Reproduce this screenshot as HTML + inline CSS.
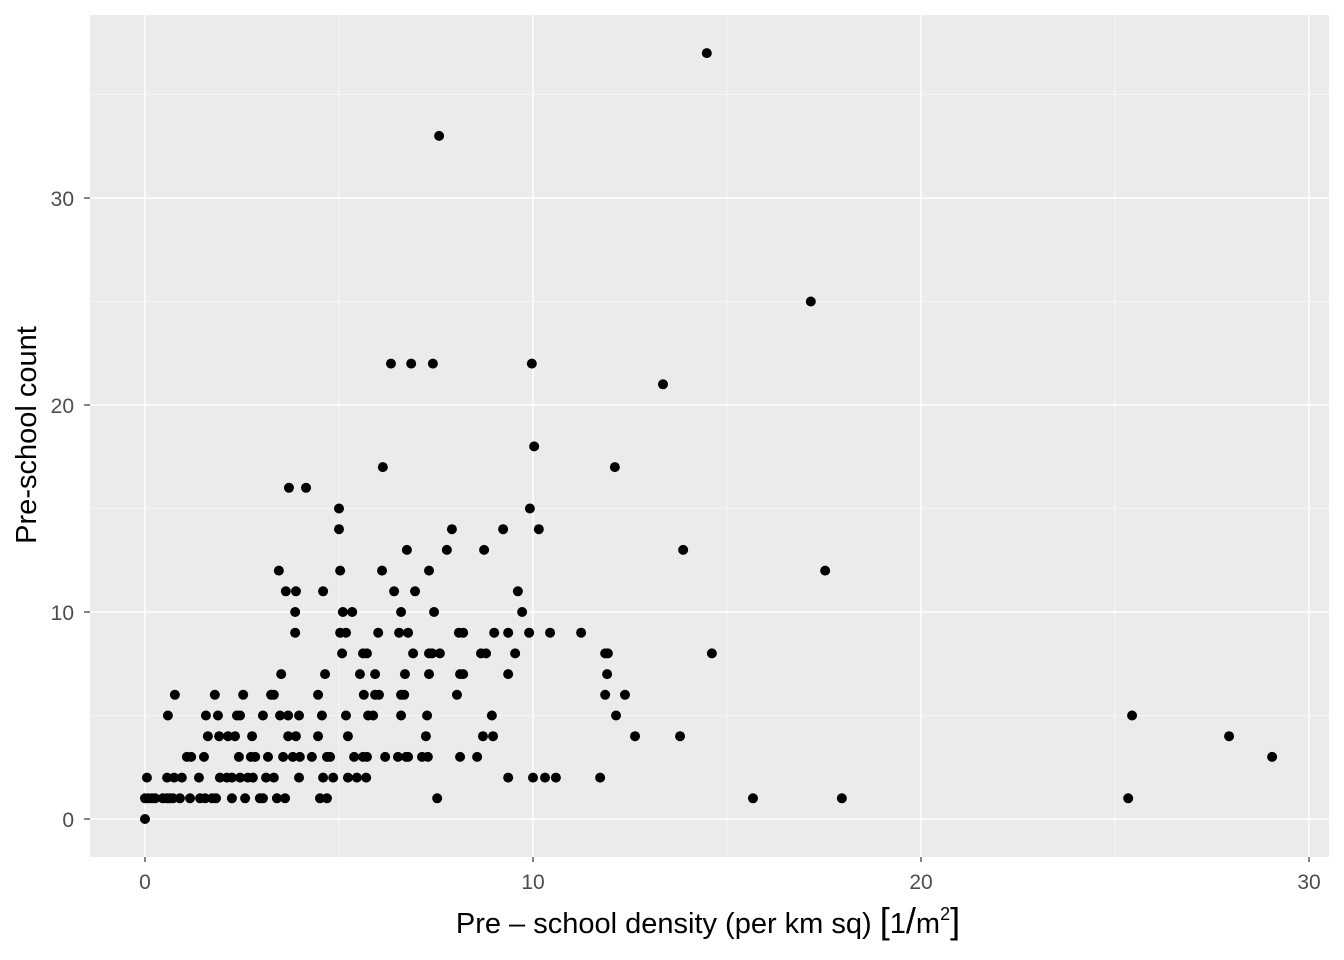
<!DOCTYPE html>
<html><head><meta charset="utf-8"><style>
html,body{margin:0;padding:0;background:#fff;}
svg{display:block;font-family:"Liberation Sans",Arial,sans-serif;}
</style></head><body>
<svg id="chart" width="1344" height="960">
<rect x="90" y="15" width="1239" height="842" fill="#EBEBEB"/>
<g id="grid"></g>
<g id="points"></g>
<g id="axes"></g>
<text transform="translate(36,435) rotate(-90)" text-anchor="middle" font-size="29" fill="#000">Pre-school count</text>
<text x="708" y="933" text-anchor="middle" font-size="29" fill="#000">Pre – school density (per km sq) <tspan font-size="36">[</tspan>1<tspan font-size="36">/</tspan>m<tspan font-size="18" dy="-13">2</tspan><tspan font-size="36" dy="13">]</tspan></text>
</svg>
<script>
const counts = [0,1,2,3,4,5,6,7,8,9,10,11,12,13,14,15,16,17,18,21,22,25,33,37];
const densities = [
 [0],
 [0,0.08,0.18,0.26,0.46,0.57,0.64,0.72,0.90,1.16,1.42,1.55,1.73,1.83,2.24,2.58,2.96,3.04,3.40,3.61,4.51,4.69,7.53,15.67,17.96,25.34],
 [0.05,0.57,0.75,0.95,1.39,1.93,2.11,2.24,2.45,2.65,2.78,3.12,3.32,3.97,4.59,4.85,5.23,5.46,5.70,9.36,10.0,10.31,10.59,11.73],
 [1.08,1.19,1.52,2.42,2.73,2.84,3.17,3.56,3.81,3.99,4.30,4.69,4.77,5.39,5.62,5.72,6.19,6.52,6.73,6.78,7.14,7.29,8.12,8.56,29.05],
 [1.62,1.91,2.14,2.32,2.76,3.69,3.89,4.46,5.23,7.24,8.71,8.97,12.63,13.79,27.94],
 [0.59,1.57,1.88,2.37,2.45,3.04,3.48,3.69,3.97,4.56,5.18,5.75,5.88,6.60,7.27,8.94,12.14,25.44],
 [0.77,1.80,2.53,3.25,3.32,4.46,5.64,5.93,6.03,6.60,6.68,8.04,11.86,12.37],
 [3.51,4.64,5.54,5.93,6.70,7.32,8.12,8.20,9.36,11.91],
 [5.08,5.62,5.72,6.91,7.32,7.40,7.60,8.66,8.79,9.54,11.86,11.93,14.61],
 [3.87,5.03,5.18,6.01,6.55,6.78,8.09,8.20,9.00,9.36,9.90,10.44,11.24],
 [3.87,5.10,5.34,6.60,7.45,9.72],
 [3.63,3.89,4.59,6.42,6.96,9.61],
 [3.45,5.03,6.11,7.32,17.53],
 [6.75,7.78,8.74,13.87],
 [5.00,7.91,9.23,10.15],
 [5.00,9.92],
 [3.71,4.15],
 [6.13,12.11],
 [10.03],
 [13.35],
 [6.34,6.86,7.42,9.97],
 [17.16],
 [7.58],
 [14.48]
];
const xTicks = [0,10,20,30];
const yTicks = [0,10,20,30];
const xMinor = [5,15,25];
const yMinor = [5,15,25,35];

const NS = "http://www.w3.org/2000/svg";
const X = v => 145 + v * 38.8;
const Y = v => 819 - v * 20.7;
function mk(tag, attrs, parent){const e=document.createElementNS(NS,tag);for(const k in attrs)e.setAttribute(k,attrs[k]);parent.appendChild(e);return e;}
const grid = document.getElementById('grid'), pts = document.getElementById('points'), axes = document.getElementById('axes');

xMinor.forEach(v=>{const l=mk('line',{x1:X(v),x2:X(v),y1:15,y2:857,stroke:'#fff','stroke-width':0.6},grid);

});
yMinor.forEach(v=>{const l=mk('line',{x1:90,x2:1329,y1:Y(v),y2:Y(v),stroke:'#fff','stroke-width':0.6},grid);

});
xTicks.forEach(v=>{const l=mk('line',{x1:X(v),x2:X(v),y1:15,y2:857,stroke:'#fff','stroke-width':1.4},grid);


const t=mk('line',{x1:X(v),x2:X(v),y1:857,y2:862,stroke:'#333','stroke-width':1.2},axes);


const s=mk('text',{x:X(v),y:889,'text-anchor':'middle','font-size':21,fill:'#4D4D4D'},axes);s.textContent=v;

});
yTicks.forEach(v=>{const l=mk('line',{x1:90,x2:1329,y1:Y(v),y2:Y(v),stroke:'#fff','stroke-width':1.4},grid);


const t=mk('line',{x1:84,x2:90,y1:Y(v),y2:Y(v),stroke:'#333','stroke-width':1.2},axes);


const s=mk('text',{x:74,y:Y(v)+8,'text-anchor':'end','font-size':21,fill:'#4D4D4D'},axes);s.textContent=v;

});

counts.forEach((c,i)=>{densities[i].forEach(d=>{
 const p=mk('circle',{cx:X(d),cy:Y(c),r:5,fill:'#000'},pts);
 
 
});});
</script>
</body></html>
